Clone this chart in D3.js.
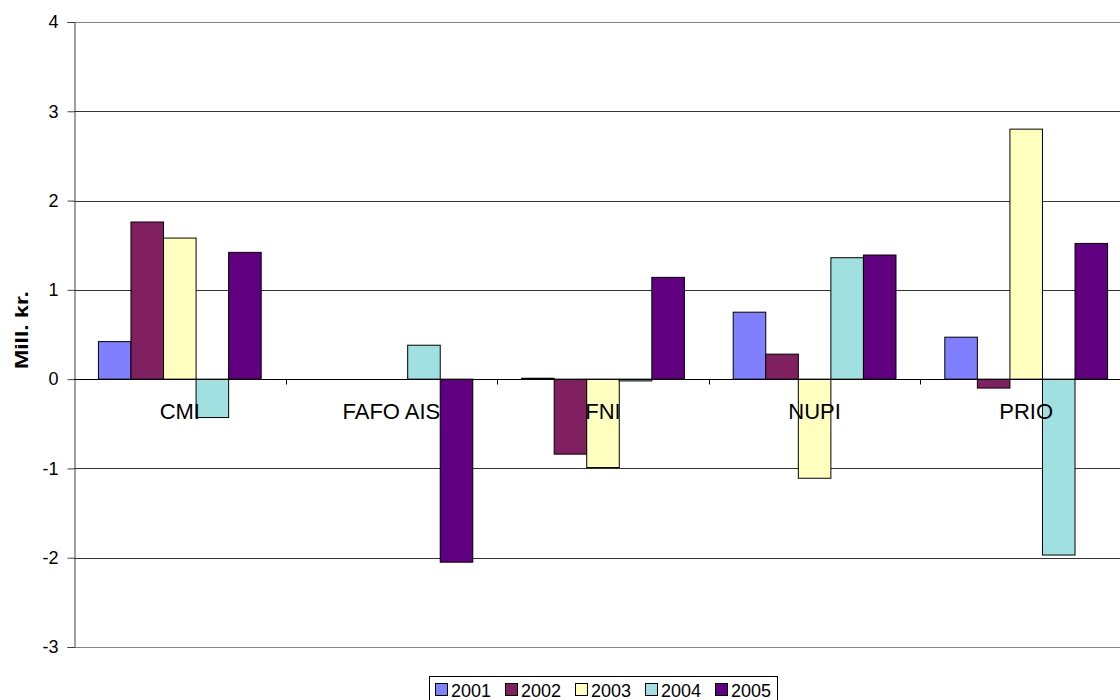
<!DOCTYPE html>
<html>
<head>
<meta charset="utf-8">
<script src="https://cdn.jsdelivr.net/npm/d3@7"></script>
<style>
  body { margin: 0; background: #fff; }
  svg { display: block; font-family: Arial, "Liberation Sans", sans-serif; }
</style>
</head>
<body>
<svg id="chart" width="1120" height="700"></svg>
<script>
    // data
    var categories = ["CMI", "FAFO AIS", "FNI", "NUPI", "PRIO"];
    var years = ["2001", "2002", "2003", "2004", "2005"];
    var v2001 = [0.42, 0, 0.01, 0.75, 0.47];
    var v2002 = [1.76, 0, -0.84, 0.28, -0.10];
    var v2003 = [1.58, 0, -0.99, -1.11, 2.80];
    var v2004 = [-0.43, 0.38, -0.02, 1.36, -1.97];
    var v2005 = [1.42, -2.05, 1.14, 1.39, 1.52];
    var yTicks = [-3, -2, -1, 0, 1, 2, 3, 4];
    var colors = ["#8080ff", "#802060", "#ffffc0", "#a0e0e0", "#600080"];

    var seriesVals = [v2001, v2002, v2003, v2004, v2005];

    var svg = d3.select("#chart");
    var plotL = 74, plotR = 1132, plotT = 22, plotB = 647;

    var x0 = d3.scaleBand().domain(categories).range([plotL, plotR]).padding(0);
    var x1 = d3.scaleBand().domain(years).range([0, x0.bandwidth()])
        .paddingInner(0).paddingOuter(0.75);
    var y = d3.scaleLinear().domain([-3, 4]).range([plotB, plotT]);

    // gridlines
    svg.append("g").selectAll("line")
        .data(yTicks).enter().append("line")
        .attr("x1", plotL).attr("x2", plotR)
        .attr("y1", function(d) { return Math.round(y(d)) + 0.5; })
        .attr("y2", function(d) { return Math.round(y(d)) + 0.5; })
        .attr("stroke", function(d) { return (d === 4 || d === -3) ? "#808080" : "#333"; })
        .attr("stroke-width", 1);

    // bars
    var rows = [];
    categories.forEach(function(c, i) {
        years.forEach(function(yr, j) {
            rows.push({cat: c, year: yr, value: seriesVals[j][i], color: colors[j]});
        });
    });

    svg.append("g").selectAll("rect")
        .data(rows).enter().append("rect")
        .attr("x", function(d) { return x0(d.cat) + x1(d.year); })
        .attr("y", function(d) { return y(Math.max(0, d.value)); })
        .attr("width", x1.bandwidth())
        .attr("height", function(d) { return Math.abs(y(d.value) - y(0)); })
        .attr("fill", function(d) { return d.color; })
        .attr("stroke", "#000")
        .attr("stroke-width", 1);

    // y axis
    var yAxis = d3.axisLeft(y).tickValues(yTicks).tickSize(7).tickPadding(9)
        .tickFormat(function(d) { return String(d); });
    var gy = svg.append("g").attr("transform", "translate(" + (plotL + 0.5) + ",0)").call(yAxis);
    gy.select(".domain").attr("stroke", "#404040");
    gy.selectAll(".tick line").attr("stroke", "#404040");
    gy.selectAll("text").attr("font-size", 18).attr("fill", "#000")
        .attr("font-family", "Arial, 'Liberation Sans', sans-serif");

    // category axis on zero line
    var zy = Math.round(y(0)) + 0.5;
    svg.append("line").attr("x1", plotL).attr("x2", plotR)
        .attr("y1", zy).attr("y2", zy).attr("stroke", "#000");
    svg.append("g").selectAll("line")
        .data(categories.slice(1)).enter().append("line")
        .attr("x1", function(d) { return Math.round(x0(d)) + 0.5; })
        .attr("x2", function(d) { return Math.round(x0(d)) + 0.5; })
        .attr("y1", zy).attr("y2", zy + 5)
        .attr("stroke", "#000");
    svg.append("g").selectAll("text")
        .data(categories).enter().append("text")
        .attr("x", function(d) { return x0(d) + x0.bandwidth() / 2; })
        .attr("y", zy + 39)
        .attr("text-anchor", "middle")
        .attr("font-size", 22)
        .text(function(d) { return d; });

    // y title
    svg.append("text")
        .attr("transform", "translate(28,330) rotate(-90)")
        .attr("text-anchor", "middle")
        .attr("font-size", 18).attr("font-weight", "bold")
        .attr("textLength", 78).attr("lengthAdjust", "spacingAndGlyphs")
        .text("Mill. kr.");

    // legend
    var lg = svg.append("g");
    lg.append("rect").attr("x", 429.5).attr("y", 676.5).attr("width", 348).attr("height", 28)
        .attr("fill", "#fff").attr("stroke", "#000");
    var item = lg.selectAll("g.item").data(years).enter().append("g")
        .attr("transform", function(d, i) { return "translate(" + (435 + i * 70) + ",0)"; });
    item.append("rect").attr("x", 0.5).attr("y", 683.5).attr("width", 12).attr("height", 12)
        .attr("fill", function(d, i) { return colors[i]; }).attr("stroke", "#000");
    item.append("text").attr("x", 16).attr("y", 697)
        .attr("font-size", 18).text(function(d) { return d; });
</script>
</body>
</html>
